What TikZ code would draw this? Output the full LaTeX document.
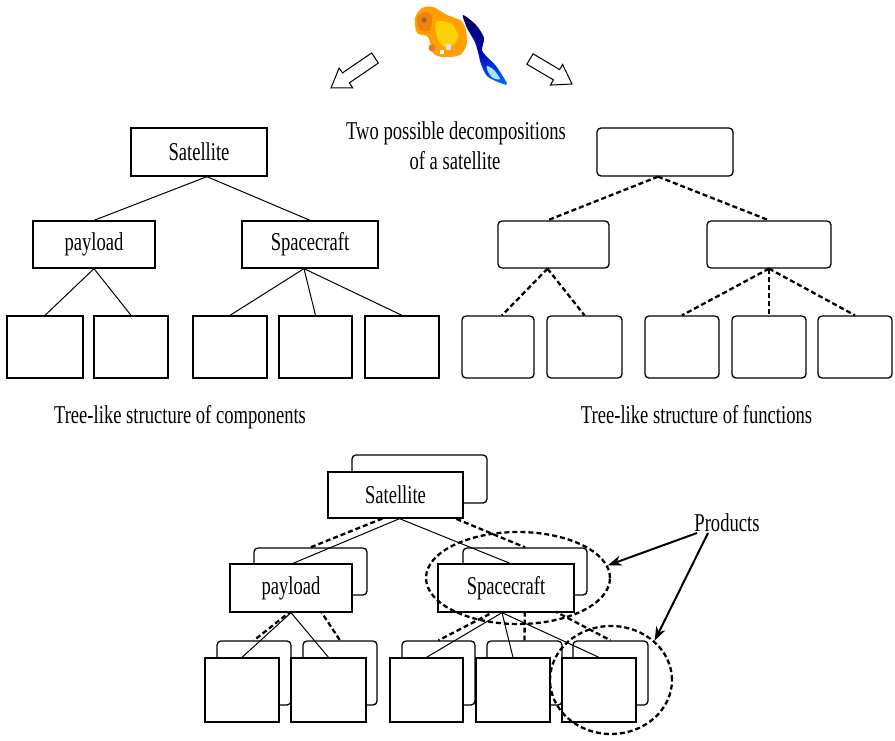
\documentclass[tikz,border=0pt]{standalone}
\usepackage{fontspec}
\setmainfont{Liberation Serif}
\usepackage{graphicx}
\usetikzlibrary{arrows.meta,shapes.geometric}
\newcommand{\tallText}[1]{\scalebox{1}[1.38]{#1}}

\begin{document}
\begin{tikzpicture}[x=1pt,y=-1pt,
  txt/.style={font=\fontsize{18.6}{22}\selectfont, inner sep=0pt},
  comp/.style={draw, line width=1.3pt, fill=white, inner sep=0pt, txt},
  func/.style={draw, line width=1.3pt, fill=white, rounded corners=4pt, inner sep=0pt},
  solidlink/.style={line width=1pt},
  dashlink/.style={line width=2.3pt, dash pattern=on 5pt off 3pt},
  prodring/.style={draw, ellipse, line width=2.3pt, dash pattern=on 5pt off 3pt, inner sep=0pt},
  pointer/.style={line width=2pt, -{Stealth[length=14pt,width=10pt]}},
  hollow/.style={draw, line width=1pt, fill=white, line join=miter},
]
\useasboundingbox (0,0) rectangle (895,741);

% ---------- satellite icon ----------
\fill[orange!75!yellow] plot[smooth cycle] coordinates {(415,18) (422,8) (433,7) (447,15) (460,20) (465,27) (467,43) (460,55) (443,57) (433,53) (428,37) (417,33)};
\fill[orange!80!brown] plot[smooth cycle] coordinates {(417,18) (425,12) (432,16) (430,30) (420,30)};
\fill[yellow!70!orange] plot[smooth cycle] coordinates {(436,22) (452,24) (458,38) (448,48) (438,40)};
\fill[brown!80!black] (424,20) circle (2.5);
\fill[brown!60!orange] (432,48) circle (3.5);
\fill[blue!15!white] (446,44) rectangle (451,50);
\fill[white] (440,50) rectangle (444,54);
\shade[top color=blue!35!black, bottom color=blue!55!cyan, middle color=blue!70!black]
  plot[smooth cycle] coordinates {(463,15) (476,25) (484,38) (482,50) (488,58) (496,66) (507,84) (498,82) (487,76) (481,64) (478,52) (475,42) (467,28)};
\fill[cyan!35!white] plot[smooth cycle] coordinates {(487,66) (494,70) (500,79) (493,78) (488,72)};

% ---------- hollow arrows ----------
\draw[hollow] (371.6,53.0) -- (342.5,72.9) -- (339.1,68.0) -- (331,88) -- (352.7,87.8) -- (349.3,82.9) -- (378.4,63.0) -- cycle;
\draw[hollow] (533.1,53.8) -- (559.6,69.6) -- (562.6,64.5) -- (572,84) -- (550.4,85.1) -- (553.4,79.9) -- (526.9,64.2) -- cycle;

\node[txt] (title1) at (456,133) {\tallText{Two possible decompositions}};
\node[txt] (title2) at (455,161) {\tallText{of a satellite}};

% ---------- tree of components ----------
\node[comp, minimum width=136pt, minimum height=48pt] (s1) at (199,152) {\tallText{Satellite}};
\node[comp, minimum width=122pt, minimum height=47pt] (p1) at (94,244.5) {\tallText{payload}};
\node[comp, minimum width=136pt, minimum height=47pt] (c1) at (310,244.5) {\tallText{Spacecraft}};
\node[comp, minimum width=76pt, minimum height=62pt] (a1) at (45,347) {};
\node[comp, minimum width=74pt, minimum height=62pt] (a2) at (131,347) {};
\node[comp, minimum width=74pt, minimum height=62pt] (a3) at (230,347) {};
\node[comp, minimum width=73pt, minimum height=62pt] (a4) at (315.5,347) {};
\node[comp, minimum width=74pt, minimum height=62pt] (a5) at (402,347) {};
\draw[solidlink] ([xshift=8pt]s1.south) -- (p1.north);
\draw[solidlink] ([xshift=8pt]s1.south) -- (c1.north);
\draw[solidlink] (p1.south) -- (a1.north);
\draw[solidlink] (p1.south) -- (a2.north);
\draw[solidlink] ([xshift=-6pt]c1.south) -- (a3.north);
\draw[solidlink] ([xshift=-6pt]c1.south) -- (a4.north);
\draw[solidlink] ([xshift=-6pt]c1.south) -- (a5.north);
\node[txt] (cap1) at (180,417) {\tallText{Tree-like structure of components}};

% ---------- tree of functions ----------
\node[func, minimum width=136pt, minimum height=48pt] (f0) at (665,152) {};
\node[func, minimum width=111pt, minimum height=47pt] (f1) at (553.5,244.5) {};
\node[func, minimum width=124pt, minimum height=47pt] (f2) at (769,244.5) {};
\node[func, minimum width=72pt, minimum height=62pt] (b1) at (498,347) {};
\node[func, minimum width=75pt, minimum height=62pt] (b2) at (584.5,347) {};
\node[func, minimum width=74pt, minimum height=62pt] (b3) at (682,347) {};
\node[func, minimum width=74pt, minimum height=62pt] (b4) at (769,347) {};
\node[func, minimum width=74pt, minimum height=62pt] (b5) at (855,347) {};
\draw[dashlink] ([xshift=-7pt]f0.south) -- ([xshift=-6pt]f1.north);
\draw[dashlink] ([xshift=-7pt]f0.south) -- (f2.north);
\draw[dashlink] ([xshift=-6pt]f1.south) -- ([xshift=4pt]b1.north);
\draw[dashlink] ([xshift=-6pt]f1.south) -- (b2.north);
\draw[dashlink] (f2.south) -- (b3.north);
\draw[dashlink] (f2.south) -- (b4.north);
\draw[dashlink] (f2.south) -- (b5.north);
\node[txt] (cap2) at (696.5,415) {\tallText{Tree-like structure of functions}};

% ---------- combined view: function layer behind ----------
\node[func, minimum width=135pt, minimum height=48pt] (bs) at (419.5,479) {};
\node[func, minimum width=113pt, minimum height=47pt] (bp) at (310.5,571.5) {};
\node[func, minimum width=124pt, minimum height=47pt] (bc) at (525,571.5) {};
\node[func, minimum width=74pt, minimum height=64pt] (g1) at (254,673) {};
\node[func, minimum width=74pt, minimum height=64pt] (g2) at (340,673) {};
\node[func, minimum width=73pt, minimum height=64pt] (g3) at (438.5,673) {};
\node[func, minimum width=75pt, minimum height=64pt] (g4) at (524.5,673) {};
\node[func, minimum width=75pt, minimum height=64pt] (g5) at (610.5,673) {};
\draw[dashlink] (bs.south) -- (bp.north);
\draw[dashlink] (bs.south) -- (bc.north);
\draw[dashlink] (bp.south) -- (g1.north);
\draw[dashlink] (bp.south) -- (g2.north);
\draw[dashlink] (bc.south) -- (g3.north);
\draw[dashlink] (bc.south) -- (g4.north);
\draw[dashlink] (bc.south) -- (g5.north);

% ---------- combined view: component layer in front ----------
\node[comp, minimum width=135pt, minimum height=46pt] (fs) at (395.5,495) {\tallText{Satellite}};
\node[comp, minimum width=122pt, minimum height=48pt] (fp) at (291,588) {\tallText{payload}};
\node[comp, minimum width=136pt, minimum height=48pt] (fc) at (506,588) {\tallText{Spacecraft}};
\node[comp, minimum width=74pt, minimum height=64pt] (h1) at (242,690) {};
\node[comp, minimum width=75pt, minimum height=64pt] (h2) at (328.5,690) {};
\node[comp, minimum width=73pt, minimum height=64pt] (h3) at (426.5,690) {};
\node[comp, minimum width=74pt, minimum height=64pt] (h4) at (513,690) {};
\node[comp, minimum width=74pt, minimum height=64pt] (h5) at (599,690) {};
\draw[solidlink] ([xshift=4pt]fs.south) -- ([xshift=2pt]fp.north);
\draw[solidlink] ([xshift=4pt]fs.south) -- ([xshift=4pt]fc.north);
\draw[solidlink] (fp.south) -- (h1.north);
\draw[solidlink] (fp.south) -- (h2.north);
\draw[solidlink] ([xshift=-4pt]fc.south) -- (h3.north);
\draw[solidlink] ([xshift=-4pt]fc.south) -- (h4.north);
\draw[solidlink] ([xshift=-4pt]fc.south) -- (h5.north);

% ---------- products ----------
\node[prodring, minimum width=184pt, minimum height=92pt] (ring1) at (518,578) {};
\node[prodring, minimum width=122pt, minimum height=108pt] (ring2) at (611,680) {};
\node[txt] (prod) at (727,523) {\tallText{Products}};
\coordinate (pa) at (697,533);
\coordinate (pb) at (708,533);
\draw[pointer] (pa) -- (ring1.8);
\draw[pointer] (pb) -- (ring2.42);
\end{tikzpicture}
\end{document}
